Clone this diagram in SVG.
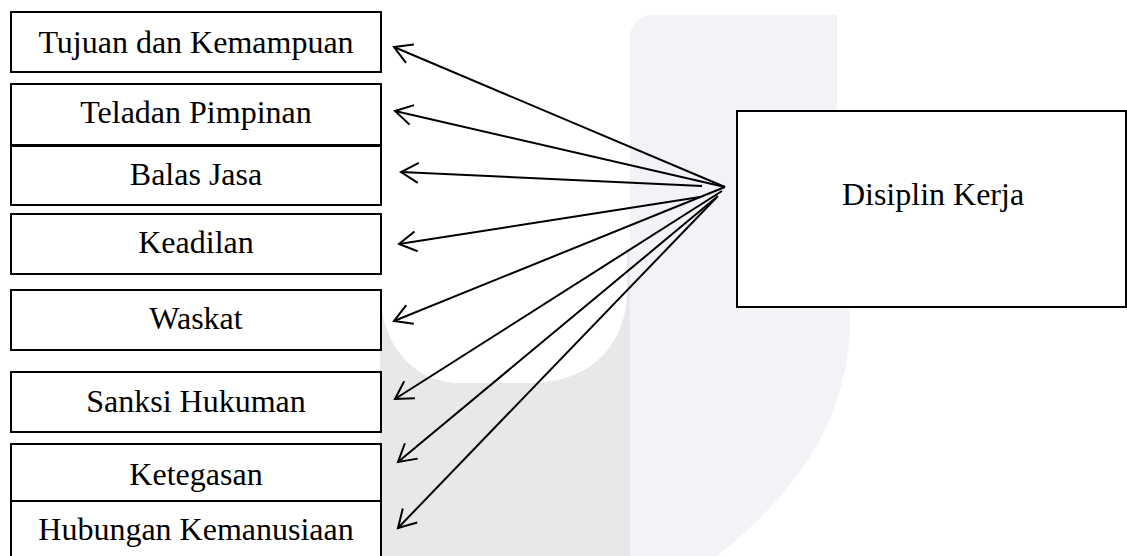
<svg xmlns="http://www.w3.org/2000/svg" width="1127" height="556" viewBox="0 0 1127 556">
  <style>
    .box { fill: #fff; stroke: #000; stroke-width: 2; }
    .lbl { font-family: "Liberation Serif", "Times New Roman", serif; font-size: 32px; fill: #000; text-anchor: middle; }
    .conn { stroke: #000; stroke-width: 2; fill: none; }
  </style>
  <defs>
    <marker id="arr" markerUnits="userSpaceOnUse" markerWidth="26" markerHeight="26" viewBox="-22 -13 26 26" refX="0" refY="0" orient="auto">
      <path d="M-17.3,-10 L0,0 L-17.3,10" fill="none" stroke="#000" stroke-width="2"/>
    </marker>
  </defs>
  <rect width="1127" height="556" fill="#fff"/>
  <g id="watermark">
    <rect x="380" y="250" width="250" height="306" fill="#e8e8e8"/>
    <path fill="#fff" d="M380,0 L627,0 L627,290 C627,345 590,383 530,383 L460,383 C410,383 380,340 380,290 Z"/>
    <path fill="#f3f3f7" d="M652,15 L837,15 L837,111 L850,111 L850,330 C845,420 800,490 717,556 L630,556 L630,40 C630,25 638,15 652,15 Z"/>
  </g>
  <g id="connectors">
    <line class="conn" x1="725" y1="187" x2="394" y2="47" marker-end="url(#arr)"/>
    <line class="conn" x1="725" y1="187" x2="395" y2="111" marker-end="url(#arr)"/>
    <line class="conn" x1="702" y1="186" x2="401" y2="172" marker-end="url(#arr)"/>
    <line class="conn" x1="700" y1="197" x2="399" y2="244" marker-end="url(#arr)"/>
    <line class="conn" x1="725" y1="187" x2="394" y2="321" marker-end="url(#arr)"/>
    <line class="conn" x1="722" y1="191" x2="395" y2="399" marker-end="url(#arr)"/>
    <line class="conn" x1="718" y1="196" x2="398" y2="462" marker-end="url(#arr)"/>
    <line class="conn" x1="717" y1="197" x2="398" y2="528" marker-end="url(#arr)"/>
  </g>
  <g id="n1"><rect class="box" x="11" y="12" width="370" height="60"/><text class="lbl" x="196" y="53">Tujuan dan Kemampuan</text></g>
  <g id="n2"><rect class="box" x="11" y="84" width="370" height="61"/><text class="lbl" x="196" y="123">Teladan Pimpinan</text></g>
  <g id="n3"><rect class="box" x="11" y="146" width="370" height="59"/><text class="lbl" x="196" y="185">Balas Jasa</text></g>
  <g id="n4"><rect class="box" x="11" y="214" width="370" height="60"/><text class="lbl" x="196" y="253">Keadilan</text></g>
  <g id="n5"><rect class="box" x="11" y="290" width="370" height="60"/><text class="lbl" x="196" y="329">Waskat</text></g>
  <g id="n6"><rect class="box" x="11" y="372" width="370" height="60"/><text class="lbl" x="196" y="412">Sanksi Hukuman</text></g>
  <g id="n7"><rect class="box" x="11" y="444" width="370" height="57"/><text class="lbl" x="196" y="485">Ketegasan</text></g>
  <g id="n8"><rect class="box" x="11" y="501" width="370" height="60"/><text class="lbl" x="196" y="540">Hubungan Kemanusiaan</text></g>
  <g id="n9"><rect class="box" x="737" y="111" width="389" height="196"/><text class="lbl" x="933" y="205">Disiplin Kerja</text></g>
</svg>
